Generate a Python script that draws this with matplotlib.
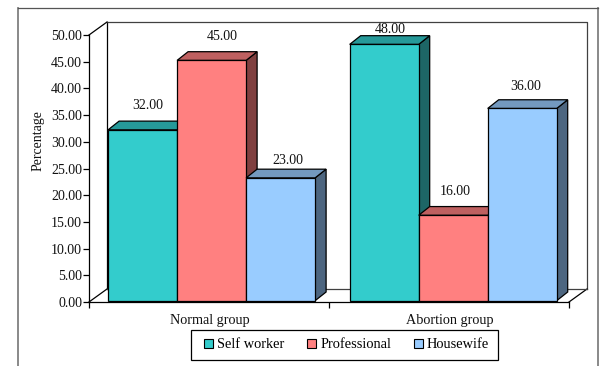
import matplotlib
matplotlib.use("Agg")
import matplotlib.pyplot as plt
from matplotlib.lines import Line2D
from matplotlib.patches import Patch, Polygon, Rectangle

plt.rcParams['font.family'] = ['Liberation Serif', 'DejaVu Serif']

groups = ['Normal group', 'Abortion group']
series = ['Self worker', 'Professional', 'Housewife']
self_worker = [32.0, 48.0]
professional = [45.0, 16.0]
housewife = [23.0, 36.0]
y_ticks = [0, 5, 10, 15, 20, 25, 30, 35, 40, 45, 50]

# front, top and side shades per series
faces = ['#33CCCC', '#FF8080', '#99CCFF']
tops = ['#269999', '#BF6060', '#7399BF']
sides = ['#1D6666', '#804040', '#4D6680']

W, H = 605, 366
fig = plt.figure(figsize=(W / 100, H / 100), dpi=100, facecolor='white')

# axes span the front plane of the box
left, right, top, bottom = 89, 569, 35, 302
ax = fig.add_axes([left / W, 1 - bottom / H, (right - left) / W, (bottom - top) / H])
ax.set_xlim(0, 2)
ax.set_ylim(0, 50)
ax.patch.set_visible(False)
for s in ['top', 'right', 'bottom']:
    ax.spines[s].set_visible(False)
ax.spines['left'].set_linewidth(0.9)

px_x = 2 / (right - left)
px_y = 50 / (bottom - top)
depth_x, depth_y = 18 * px_x, 13 * px_y      # box depth
bar_dx, bar_dy = 11 * px_x, 8.7 * px_y       # bar depth
gap_x = [2.6 * px_x, 4.2 * px_x]             # bars sit slightly inside the floor
gap_y = 1.3 * px_y
bar_w = 0.2875


def poly(points, color, edge='black', lw=0.9, z=2):
    ax.add_patch(Polygon(points, closed=True, facecolor=color, edgecolor=edge,
                         linewidth=lw, joinstyle='miter', clip_on=False, zorder=z))


# box: wall edges and floor
ax.plot([depth_x, depth_x], [depth_y, 50 + depth_y], color='black', lw=0.9, clip_on=False, zorder=1)
ax.plot([depth_x, 2 + depth_x, 2 + depth_x], [50 + depth_y, 50 + depth_y, depth_y],
        color='#404040', lw=0.9, clip_on=False, zorder=1)
ax.plot([0, depth_x], [50, 50 + depth_y], color='black', lw=0.9, clip_on=False, zorder=1)
ax.plot([0, depth_x], [0, depth_y], color='black', lw=0.9, clip_on=False, zorder=1)
ax.plot([2, 2 + depth_x], [0, depth_y], color='black', lw=0.9, clip_on=False, zorder=1)
ax.plot([depth_x, 2 + depth_x], [depth_y, depth_y], color='#404040', lw=0.9, clip_on=False, zorder=1)
ax.plot([0, 2], [0, 0], color='black', lw=0.9, clip_on=False, zorder=1)

values = [self_worker, professional, housewife]
# label nudges in points, right and up of the bar top centre
nudges = [[(3.6, 12.5), (4.7, 6.3)],
          [(7.6, 12.2), (1.4, 12.5)],
          [(5.4, 7.5), (2.6, 11.0)]]

for g in range(len(groups)):
    for i in range(len(series)):
        v = values[i][g]
        x0 = g + 0.5 - 1.5 * bar_w + i * bar_w + gap_x[g]
        x1 = x0 + bar_w
        y0, y1 = gap_y, v + gap_y
        z = 2 + i
        poly([(x1, y0), (x1 + bar_dx, y0 + bar_dy), (x1 + bar_dx, y1 + bar_dy), (x1, y1)], sides[i], z=z)
        poly([(x0, y1), (x0 + bar_dx, y1 + bar_dy), (x1 + bar_dx, y1 + bar_dy), (x1, y1)], tops[i], z=z)
        poly([(x0, y0), (x1, y0), (x1, y1), (x0, y1)], faces[i], z=z + 0.5)
        ax.annotate(f'{v:.2f}', xy=((x0 + x1) / 2, y1), xytext=nudges[i][g],
                    textcoords='offset points', ha='center', va='bottom',
                    fontsize=10, color='#111111', zorder=10, annotation_clip=False)

ax.set_yticks(y_ticks, [f'{t:.2f}' for t in y_ticks], fontsize=10, color='#111111')
ax.tick_params(axis='y', length=4, width=0.9, pad=1)
ax.set_xticks([0, 1, 2], ['', '', ''])
ax.tick_params(axis='x', length=4, width=0.9)
for g, name in enumerate(groups):
    ax.annotate(name, xy=(g + 0.5, 0), xytext=(0.8, -13), textcoords='offset points',
                ha='center', va='center', fontsize=10.2, color='#111111', annotation_clip=False)
ax.set_ylabel('Percentage', fontsize=10, color='#111111')
ax.yaxis.set_label_coords((45 - left) / (right - left), 0.605)

# legend frame drawn separately so the entries can sit off-centre inside it
fig.add_artist(Rectangle((191 / W, 1 - 360 / H), 307 / W, 30 / H, transform=fig.transFigure,
                         facecolor='white', edgecolor='black', linewidth=0.9, zorder=5))
handles = [Patch(facecolor=c, edgecolor='black', linewidth=0.8) for c in faces]
leg = fig.legend(handles, series, loc='center left', ncol=3, fontsize=10.4, frameon=False,
                 bbox_to_anchor=(204 / W, 1 - 345 / H),
                 handlelength=0.62, handleheight=0.62, handletextpad=0.28,
                 columnspacing=1.59, borderpad=0, borderaxespad=0)
leg.set_zorder(6)

# outer chart frame, open at the lower edge of the image
fig.add_artist(Line2D([18 / W, 18 / W], [0, 1 - 8 / H], transform=fig.transFigure,
                      color='#808080', lw=1.3))
fig.add_artist(Line2D([598 / W, 598 / W], [0, 1 - 8 / H], transform=fig.transFigure,
                      color='#808080', lw=1.3))
fig.add_artist(Line2D([18 / W, 598 / W], [1 - 8 / H, 1 - 8 / H], transform=fig.transFigure,
                      color='#555555', lw=0.9))

fig.savefig('out.png', dpi=100)
